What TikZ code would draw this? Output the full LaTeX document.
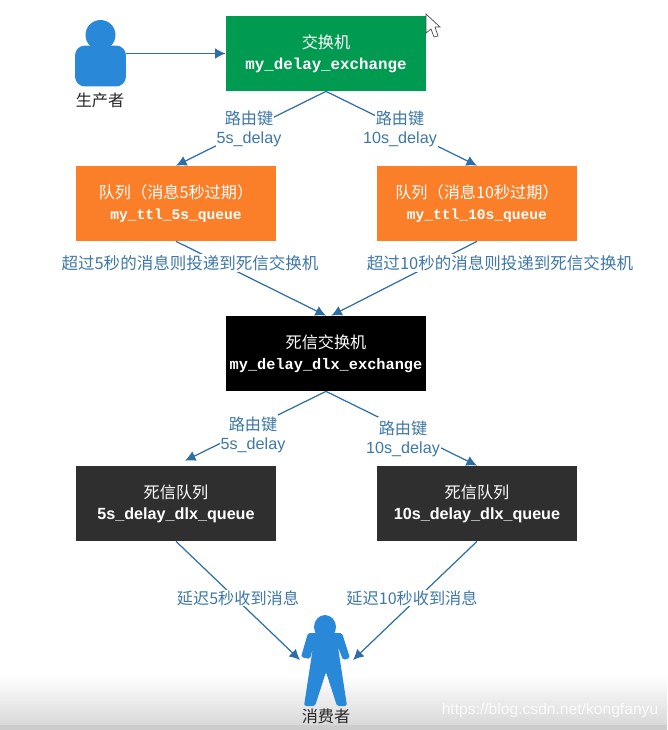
\documentclass[tikz,border=0pt]{standalone}
\usepackage{fontspec}
\setmainfont{Noto Sans CJK SC}
\newfontfamily\latinfont{Liberation Sans}
\newfontfamily\codefont{Liberation Mono}
\usepackage{xcolor}
\definecolor{flowblue}{HTML}{2F6EA5}
\definecolor{labelblue}{HTML}{3E78A8}
\definecolor{mygreen}{HTML}{009A50}
\definecolor{myorange}{HTML}{FB7F28}
\definecolor{mygray}{HTML}{2F2F2F}
\definecolor{figblue}{HTML}{2A88D8}
\usetikzlibrary{arrows.meta}
\tikzset{
  box/.style={minimum width=4cm,minimum height=1.5cm,inner sep=0pt,align=center,text=white,
    font=\fontsize{9.2}{12}\selectfont},
  flow/.style={draw=flowblue,line width=.7pt,-{Latex[length=6pt,width=6pt]}},
  lbl/.style={fill=white,inner sep=.5pt,text=labelblue,
    font=\fontsize{9.2}{12}\selectfont},
  keyrow/.style={lbl,minimum height=.43cm},
  who/.style={text=black!85,inner sep=0pt,font=\fontsize{9.2}{12}\selectfont},
}
\newcommand{\code}[2][9]{{\codefont\bfseries\fontsize{#1}{12}\selectfont #2}}
\newcommand{\lat}[1]{{\latinfont #1}}
\begin{document}
\begin{tikzpicture}[x=.02cm,y=-.02cm]
\useasboundingbox (0,0) rectangle (667,730);
\shade [top color=white,bottom color=black!15] (0,675) rectangle (667,725);
\fill [black!20] (0,725) rectangle (667,730);
\path
  (326,53.5) node [box,fill=mygreen] (exch) {交换机\\\code{my\_delay\_exchange}}
  (176,203.5) node [box,fill=myorange] (ttlfive) {队列（消息5秒过期）\\\code[8.3]{my\_ttl\_5s\_queue}}
  (477,203.5) node [box,fill=myorange] (ttlten) {队列（消息10秒过期）\\\code[8.3]{my\_ttl\_10s\_queue}}
  (326,353.5) node [box,fill=black] (dlx) {死信交换机\\\code[8.7]{my\_delay\_dlx\_exchange}}
  (176,503.5) node [box,fill=mygray] (dlqfive) {死信队列\\\lat{\bfseries 5s\_delay\_dlx\_queue}}
  (477,503.5) node [box,fill=mygray] (dlqten) {死信队列\\\lat{\bfseries 10s\_delay\_dlx\_queue}};
% producer
\fill [figblue] (100.5,35) circle [radius=15*.02cm];
\node [fill=figblue,rounded corners=10*.02cm,minimum width=1.02cm,minimum height=.82cm,
  inner sep=0pt] (prod) at (100.5,66) {};
\node [who] (prodname) at (100,100) {生产者};
% consumer
\fill [figblue] (325,627) ellipse [x radius=11*.02cm,y radius=12*.02cm];
\fill [figblue,rounded corners=1pt] (308,633) -- (342,633) -- (350,658) -- (343,660)
  -- (338,647) -- (347,706) -- (337,706) -- (326,672) -- (315,706)
  -- (304,706) -- (313,647) -- (310,659) -- (301,657) -- cycle;
\node [who] (consname) at (326,716) {消费者};
\coordinate (handl) at (300,660);
\coordinate (handr) at (353,660);
% edges
\draw [flow] (prod.east |- exch) -- (exch.west);
\draw [flow] (exch.south) -- (ttlfive.north);
\draw [flow] (exch.south) -- (ttlten.north);
\draw [flow] (ttlfive.south) -- (dlx.north);
\draw [flow] (ttlten.south) -- ([xshift=3pt]dlx.north);
\draw [flow] (dlx.south) -- ([xshift=5.1pt,yshift=2.8pt]dlqfive.north);
\draw [flow] (dlx.south) -- (dlqten.north);
\draw [flow] (dlqfive.south) -- (handl);
\draw [flow] (dlqten.south) -- (handr);
% edge labels
\node [keyrow] (keya) at (249,118) {路由键};
\node [keyrow] (delaya) at (249,139) {\lat{5s\_delay}};
\node [keyrow] (keyb) at (400,118) {路由键};
\node [keyrow] (delayb) at (400,139) {\lat{10s\_delay}};
\node [lbl,font=\fontsize{9.4}{12}\selectfont] (passa) at (190,263) {超过5秒的消息则投递到死信交换机};
\node [lbl,font=\fontsize{9.4}{12}\selectfont] (passb) at (500,263) {超过10秒的消息则投递到死信交换机};
\node [keyrow] (keyc) at (253,424) {路由键};
\node [keyrow] (delayc) at (253,445) {\lat{5s\_delay}};
\node [keyrow] (keyd) at (403,428) {路由键};
\node [keyrow] (delayd) at (403,449) {\lat{10s\_delay}};
\node [lbl] (waita) at (238,598) {延迟5秒收到消息};
\node [lbl] (waitb) at (412,598) {延迟10秒收到消息};
% pointer and site mark
\draw [black!70,fill=white,line width=.4pt] (426,14) -- (426,33) -- (431,29) -- (434,37)
  -- (438,36) -- (435,27) -- (440,27) -- cycle;
\node [text=white,opacity=.85,inner sep=0pt,font=\latinfont\fontsize{8.9}{10}\selectfont] (mark) at (550,710)
  {https://blog.csdn.net/kongfanyu};
\end{tikzpicture}
\end{document}
